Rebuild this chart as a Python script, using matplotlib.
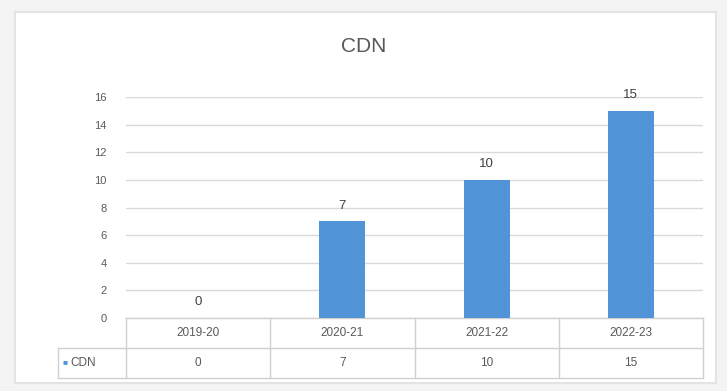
import matplotlib.pyplot as plt
from matplotlib import patches

plt.rcParams['font.family'] = ['Liberation Sans', 'DejaVu Sans']

years = ['2019-20', '2020-21', '2021-22', '2022-23']
cdn = [0, 7, 10, 15]
y_ticks = [0, 2, 4, 6, 8, 10, 12, 14, 16]
series_name = 'CDN'

W, H = 727, 391
fig = plt.figure(figsize=(W / 100, H / 100), dpi=100, facecolor='#f3f3f3')

# white card behind the chart
fig.patches.append(patches.Rectangle((15 / W, 1 - 383 / H), (716 - 15) / W, (383 - 12) / H,
                                     transform=fig.transFigure, facecolor='white',
                                     edgecolor='#e3e3e3', linewidth=1.5, zorder=-5))

# plot area in pixels
x0, x1, y0, y1 = 126, 703, 97, 318
ax = fig.add_axes([x0 / W, 1 - y1 / H, (x1 - x0) / W, (y1 - y0) / H])
ax.set_facecolor('white')

x = range(len(years))
bars = ax.bar(x, cdn, width=0.32, color='#5294d8', zorder=3)
for b, v in zip(bars, cdn):
    ax.annotate(str(v), (b.get_x() + b.get_width() / 2, v), xytext=(0, 7),
                textcoords='offset points', ha='center', va='bottom',
                fontsize=9.5, color='#404040')

ax.set_xlim(-0.5, len(years) - 0.5)
ax.set_ylim(0, 16)
ax.set_yticks(y_ticks)
ax.tick_params(axis='y', length=0, pad=14, labelsize=8, labelcolor='#595959')
ax.set_xticks([])
ax.grid(axis='y', color='#d9d9d9', linewidth=1, zorder=0)
for s in ax.spines.values():
    s.set_visible(False)

fig.text(0.5, 1 - 47 / H, 'CDN', ha='center', va='center', fontsize=15, color='#595959')

# data table under the plot
row_h = 30 / (y1 - y0)
label_w = (x0 - 58) / (x1 - x0)
col_w = 1 / len(years)
edge = '#d0d0d0'
line_kw = dict(transform=ax.transAxes, color=edge, lw=1, clip_on=False)
ax.plot([0, 1], [0, 0], **line_kw)
for i in range(1, len(years) + 1):
    ax.plot([i * col_w] * 2, [0, -2 * row_h], **line_kw)
ax.plot([-label_w, 1], [-row_h, -row_h], **line_kw)
ax.plot([-label_w, 1], [-2 * row_h, -2 * row_h], **line_kw)
ax.plot([-label_w, -label_w], [-row_h, -2 * row_h], **line_kw)
ax.plot([0, 0], [0, -2 * row_h], **line_kw)

for i, (yr, v) in enumerate(zip(years, cdn)):
    cx = (i + 0.5) * col_w
    ax.text(cx, -0.5 * row_h, yr, transform=ax.transAxes, ha='center', va='center',
            fontsize=8.5, color='#595959')
    ax.text(cx, -1.5 * row_h, str(v), transform=ax.transAxes, ha='center', va='center',
            fontsize=8.5, color='#595959')

ax.text(-label_w + 0.008, -1.5 * row_h, '■', transform=ax.transAxes, ha='left', va='center',
        fontsize=6, color='#5294d8')
ax.text(-label_w + 0.022, -1.5 * row_h, series_name, transform=ax.transAxes, ha='left',
        va='center', fontsize=8.5, color='#595959')

fig.savefig('out.png', dpi=100, facecolor=fig.get_facecolor())
